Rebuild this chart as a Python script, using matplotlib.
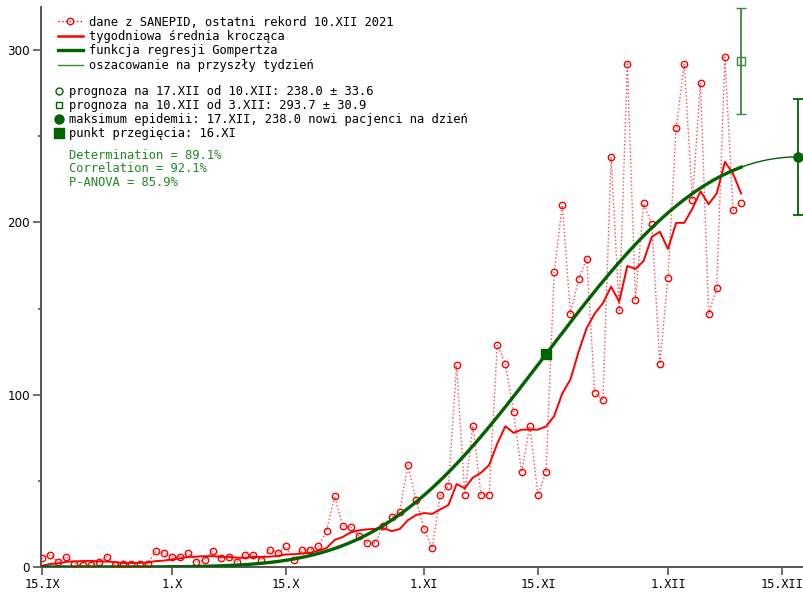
import numpy as np
import pandas as pd
import matplotlib
matplotlib.use("Agg")
import matplotlib.pyplot as plt
import matplotlib.dates as mdates
from matplotlib.lines import Line2D

# ---------------- data ----------------
start_date = "2021-09-15"
daily_cases = [5, 7, 3, 6, 2, 1, 1, 3, 6, 1, 2, 2, 2, 2, 9, 8, 6, 6, 8, 3,
               4, 9, 5, 6, 3, 7, 7, 4, 10, 8, 12, 4, 10, 10, 12, 21, 41, 24, 23, 18,
               14, 14, 24, 29, 32, 59, 39, 22, 11, 42, 47, 117, 42, 82, 42, 42, 129, 118, 90, 55,
               82, 42, 55, 171, 210, 147, 167, 179, 101, 97, 238, 149, 292, 155, 211, 199, 118, 168, 255, 292,
               213, 281, 147, 162, 296, 207, 211]

peak_date = "2021-12-17"
peak_value = 238.0
peak_err = 33.6
inflection_date = "2021-11-16"
prev_forecast_date = "2021-12-10"
prev_forecast_value = 293.7
prev_forecast_err = 30.9

tick_dates = ["2021-09-15", "2021-10-01", "2021-10-15", "2021-11-01",
              "2021-11-15", "2021-12-01", "2021-12-15"]
tick_labels = ["15.IX", "1.X", "15.X", "1.XI", "15.XI", "1.XII", "15.XII"]

legend_labels = ["dane z SANEPID, ostatni rekord 10.XII 2021",
                 "tygodniowa średnia krocząca",
                 "funkcja regresji Gompertza",
                 "oszacowanie na przyszły tydzień"]
legend2_labels = ["prognoza na 17.XII od 10.XII: 238.0 ± 33.6",
                  "prognoza na 10.XII od 3.XII: 293.7 ± 30.9",
                  "maksimum epidemii: 17.XII, 238.0 nowi pacjenci na dzień",
                  "punkt przegięcia: 16.XI"]
stats_labels = ["Determination = 89.1%", "Correlation = 92.1%", "P-ANOVA = 85.9%"]

# ---------------- derived ----------------
dates = pd.date_range(start_date, periods=len(daily_cases), freq="D")
x = mdates.date2num(dates.to_pydatetime())
s = pd.Series(daily_cases, dtype=float)
rolling = s.rolling(7, min_periods=1).sum() / 7.0

x_peak = mdates.date2num(pd.Timestamp(peak_date).to_pydatetime())
x_infl = mdates.date2num(pd.Timestamp(inflection_date).to_pydatetime())
x_prev = mdates.date2num(pd.Timestamp(prev_forecast_date).to_pydatetime())
x_last = x[-1]

# derivative of Gompertz: y = peak * u * exp(1-u), u = exp(-c (t - t_peak))
c = np.log((3 + np.sqrt(5)) / 2) / (x_peak - x_infl)


def gompertz_rate(t):
    u = np.exp(-c * (t - x_peak))
    return peak_value * u * np.exp(1 - u)


t_fit = np.linspace(x[0], x_last, 400)
t_fut = np.linspace(x_last, x_peak, 100)

# ---------------- figure ----------------
W, H = 804, 593
fig = plt.figure(figsize=(W / 100, H / 100), dpi=100)
ax = fig.add_axes([41 / W, 26 / H, 763 / W, 560 / H])

RED = "#ff0000"
DG = "#006400"
LG = "#3a8a3a"
mono = "DejaVu Sans Mono"
fs = 8.7

ax.plot(x, daily_cases, ls=":", color=RED, lw=1.0, alpha=0.7, zorder=2)
ax.plot(x, daily_cases, ls="none", marker="o", ms=4.6, mfc="none", mec=RED, mew=1.0, zorder=3)
ax.plot(x, rolling, color=RED, lw=1.4, zorder=4)
ax.plot(t_fit, gompertz_rate(t_fit), color=DG, lw=2.4, zorder=5)
ax.plot(t_fut, gompertz_rate(t_fut), color=DG, lw=1.0, zorder=5)
ax.plot([x_infl], [gompertz_rate(x_infl)], marker="s", ms=7, color=DG, ls="none", zorder=6)

ax.errorbar([x_prev], [prev_forecast_value], yerr=[prev_forecast_err], fmt="s", ms=6,
            mfc="none", mec=LG, color=LG, ecolor=LG, elinewidth=1.3, capsize=3.5,
            capthick=1.3, mew=1.0, zorder=6, clip_on=False)
ax.errorbar([x_peak], [peak_value], yerr=[peak_err], fmt="o", ms=6,
            mfc="none", mec=DG, ecolor=DG, elinewidth=1.3, capsize=3.5,
            capthick=1.3, zorder=6, clip_on=False)
ax.plot([x_peak], [peak_value], marker="o", ms=6.5, color=DG, ls="none", zorder=7, clip_on=False)

ax.set_xlim(x[0] - 0.12, x_peak + 0.73)
ax.set_ylim(0, 325)

for sp in ["top", "right"]:
    ax.spines[sp].set_visible(False)
for sp in ["left", "bottom"]:
    ax.spines[sp].set_color("#555555")
    ax.spines[sp].set_linewidth(1.4)

ax.set_xticks(mdates.date2num([pd.Timestamp(d).to_pydatetime() for d in tick_dates]))
ax.set_xticklabels(tick_labels, fontfamily=mono, fontsize=8.6)
ax.set_yticks([0, 100, 200, 300])
ax.set_yticks([50, 150, 250], minor=True)
ax.tick_params(axis="both", which="major", length=5.5, width=1.2, color="#555555", pad=2.5)
ax.tick_params(axis="y", which="minor", length=2.5, width=1.2, color="#555555")
ax.tick_params(axis="y", labelsize=8.6)

handles1 = [Line2D([], [], ls=":", color=RED, lw=1.0, marker="o", ms=4.6, mfc="none", mec=RED),
            Line2D([], [], color=RED, lw=1.8),
            Line2D([], [], color=DG, lw=2.4),
            Line2D([], [], color=LG, lw=1.0)]
leg1 = fig.legend(handles1, legend_labels, loc="upper left",
                  bbox_to_anchor=(58 / W, 1 - 15.5 / H), frameon=False,
                  prop={"family": mono, "size": fs}, borderpad=0, borderaxespad=0,
                  handlelength=2.05, handletextpad=0.5, labelspacing=0.12)

handles2 = [Line2D([], [], ls="none", marker="o", ms=5, mfc="none", mec=DG, mew=1.0),
            Line2D([], [], ls="none", marker="s", ms=5, mfc="none", mec=DG, mew=1.0),
            Line2D([], [], ls="none", marker="o", ms=6.5, color=DG),
            Line2D([], [], ls="none", marker="s", ms=6.5, color=DG)]
leg2 = fig.legend(handles2, legend2_labels, loc="upper left",
                  bbox_to_anchor=(54 / W, 1 - 85 / H), frameon=False,
                  prop={"family": mono, "size": fs}, borderpad=0, borderaxespad=0,
                  handlelength=0.85, handletextpad=0.42, labelspacing=0.09)

for i, lab in enumerate(stats_labels):
    fig.text(69 / W, 1 - (155 + 14 * i) / H, lab, color="#1f8a1f", family=mono,
             fontsize=fs, va="center", ha="left")

fig.savefig("out.png", dpi=100)
